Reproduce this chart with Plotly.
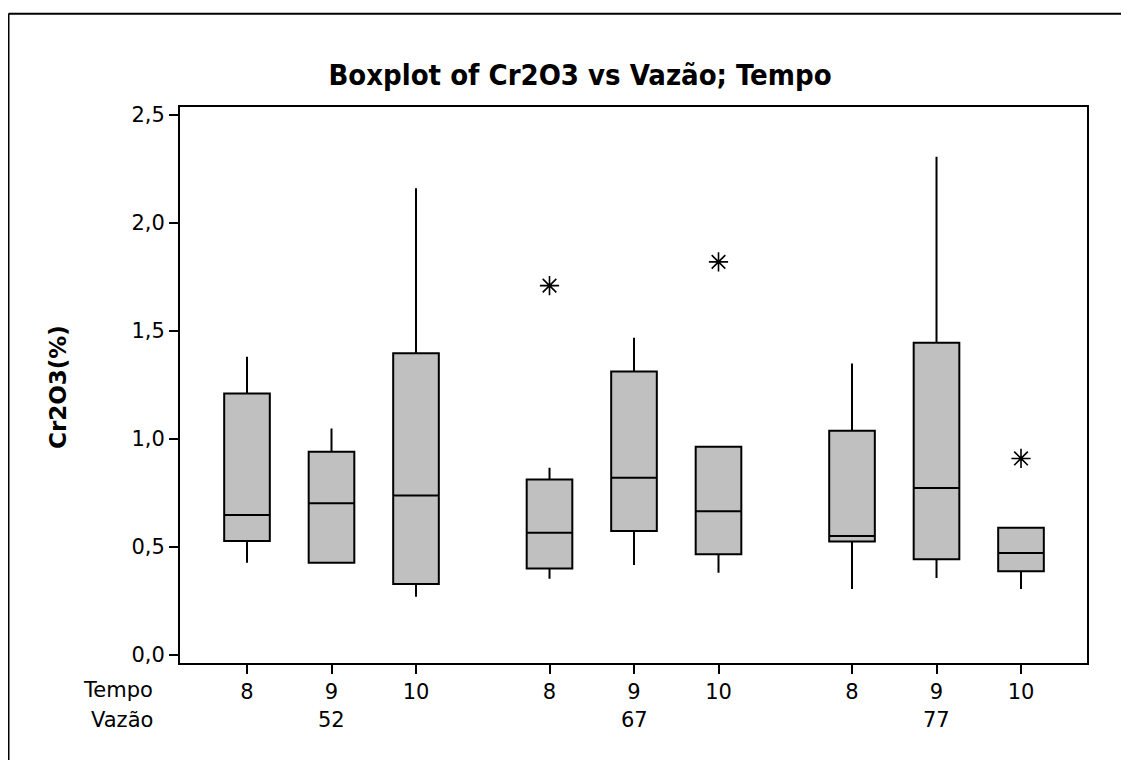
import plotly.graph_objects as go

# ---- data ----
vazao_groups = ["52", "67", "77"]
tempo_labels = ["8", "9", "10", "8", "9", "10", "8", "9", "10"]
x_pos = [0, 1, 2, 3.58, 4.58, 5.58, 7.16, 8.16, 9.16]
group_centers = [1, 4.58, 8.16]

q_min = [0.427, 0.427, 0.270, 0.353, 0.417, 0.381, 0.306, 0.357, 0.306]
q1 = [0.528, 0.427, 0.329, 0.400, 0.574, 0.466, 0.525, 0.443, 0.388]
med = [0.648, 0.702, 0.739, 0.566, 0.821, 0.665, 0.551, 0.773, 0.472]
q3 = [1.211, 0.941, 1.397, 0.813, 1.312, 0.964, 1.038, 1.446, 0.589]
q_max = [1.381, 1.049, 2.161, 0.867, 1.469, 0.964, 1.349, 2.307, 0.589]

outlier_x = [3.58, 5.58, 9.16]
outlier_y = [1.71, 1.82, 0.91]

y_ticks = [0.0, 0.5, 1.0, 1.5, 2.0, 2.5]
y_ticktext = ["0,0", "0,5", "1,0", "1,5", "2,0", "2,5"]

FONT = "DejaVu Sans"
OFF = 8  # page body margin

W, H = 1129 - OFF, 760 - OFF
L, T = 180 - OFF, 107 - OFF
R = W - (1087 - OFF)
B = H - (663 - OFF)
pw, ph = W - L - R, H - T - B


def px_x(xs):
    return (xs - OFF - L) / pw


def px_y(ys):
    return (H - B - (ys - OFF)) / ph


fig = go.Figure()
fig.add_trace(go.Box(
    x=x_pos, q1=q1, median=med, q3=q3,
    lowerfence=q_min, upperfence=q_max,
    width=0.54, whiskerwidth=0,
    fillcolor="#C0C0C0",
    line=dict(color="black", width=2),
    boxpoints=False, showlegend=False, hoverinfo="skip",
))
fig.add_trace(go.Scatter(
    x=outlier_x, y=outlier_y, mode="markers",
    marker=dict(symbol="asterisk-open", size=16, color="black",
                line=dict(color="black", width=1.6)),
    showlegend=False, hoverinfo="skip",
))

annotations = [
    dict(text="Tempo", xref="paper", yref="paper", x=px_x(155), y=px_y(690),
         xanchor="right", yanchor="middle", showarrow=False,
         font=dict(family=FONT, size=21, color="black")),
    dict(text="Vazão", xref="paper", yref="paper", x=px_x(155), y=px_y(720),
         xanchor="right", yanchor="middle", showarrow=False,
         font=dict(family=FONT, size=21, color="black")),
    dict(text="<b>Cr2O3(%)</b>", xref="paper", yref="paper", x=px_x(58), y=px_y(387),
         xanchor="center", yanchor="middle", textangle=-90, showarrow=False,
         font=dict(family=FONT, size=23, color="black")),
]
for gx, gl in zip(group_centers, vazao_groups):
    annotations.append(dict(text=gl, xref="x", yref="paper", x=gx, y=px_y(720),
                            xanchor="center", yanchor="middle", showarrow=False,
                            font=dict(family=FONT, size=21, color="black")))

shapes = [
    dict(type="line", xref="paper", yref="paper", x0=px_x(8.5), x1=px_x(1140),
         y0=px_y(13.7), y1=px_y(13.7), line=dict(color="black", width=2)),
    dict(type="line", xref="paper", yref="paper", x0=px_x(8.5), x1=px_x(8.5),
         y0=px_y(13.7), y1=px_y(780), line=dict(color="black", width=2)),
]

fig.update_layout(
    width=W, height=H,
    margin=dict(l=L, r=R, t=T, b=B),
    paper_bgcolor="white", plot_bgcolor="white",
    title=dict(text="<b>Boxplot of Cr2O3 vs Vazão; Tempo</b>",
               x=(580 - OFF) / W, xref="container", xanchor="center",
               y=1 - (75 - OFF) / H, yref="container", yanchor="middle",
               font=dict(family="Liberation Sans Narrow, DejaVu Sans Condensed, Arial Narrow, DejaVu Sans",
                         size=29, color="black")),
    xaxis=dict(range=[-0.793, 9.941], showgrid=False, zeroline=False,
               showline=True, mirror=True, linecolor="black", linewidth=2,
               ticks="outside", ticklen=9, tickwidth=1.5, tickcolor="black",
               tickvals=x_pos, ticktext=tempo_labels,
               tickfont=dict(family=FONT, size=21, color="black")),
    yaxis=dict(range=[-0.037, 2.537], showgrid=False, zeroline=False,
               showline=True, mirror=True, linecolor="black", linewidth=2,
               ticks="outside", ticklen=9, tickwidth=1.5, tickcolor="black",
               tickvals=y_ticks, ticktext=y_ticktext,
               tickfont=dict(family=FONT, size=21, color="black")),
    annotations=annotations,
    shapes=shapes,
)

fig.write_html("out.html")
